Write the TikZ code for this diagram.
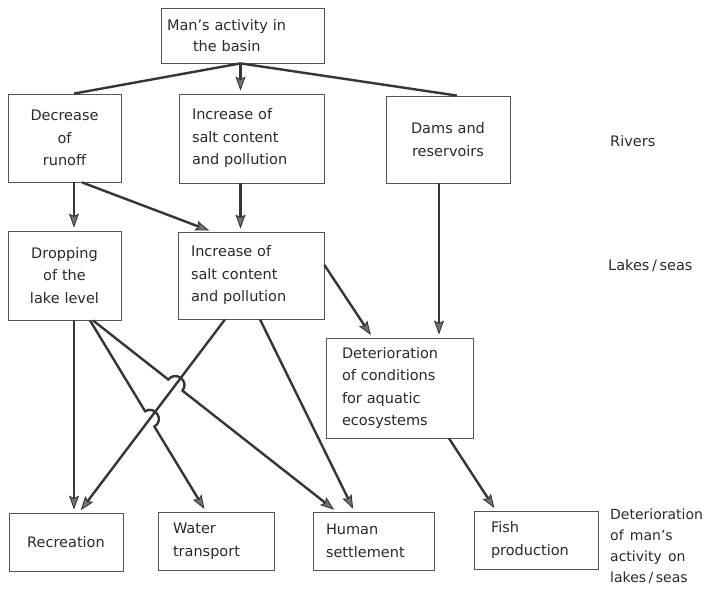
\documentclass[tikz,border=0pt]{standalone}
\usepackage{fontspec}
\setmainfont{DejaVu Sans}[WordSpace=1.4]
\usetikzlibrary{arrows.meta,calc}
\definecolor{lc}{HTML}{363636}
\definecolor{bc}{HTML}{555555}
\definecolor{tc}{HTML}{2A2A2A}
\newcommand\dfont{\fontsize{14.5pt}{22.5pt}\selectfont}
\newcommand\nsp{\hspace{0.18em}}
\begin{document}
\begin{tikzpicture}[x=1pt,y=-1pt,
  box/.style={draw=bc, line width=0.8pt, text=tc, font=\dfont, inner ysep=0pt},
  boxc/.style={box, align=center},
  boxl/.style={box, align=left},
  lbl/.style={text=tc, font=\dfont, align=left, inner sep=0pt},
  conn/.style={draw=lc, line width=2.4pt},
  arr/.style={conn, -{Stealth[length=14pt,width=10pt,inset=2.5pt,line width=0.9pt,fill=lc!70]}, shorten >=3pt},
]
\fill[white] (0,0) rectangle (713,591);
\useasboundingbox (0,0) rectangle (713,591);

% boxes
\node[boxl, text width=151pt, inner xsep=6pt, minimum height=55pt, font=\fontsize{14.5pt}{21pt}\selectfont] (top) at (242.5,35.5) {Man's activity in\\\hspace*{26pt}the basin};
\node[boxc, text width=101pt, inner xsep=6pt, minimum height=88pt] (dec) at (64.5,138) {Decrease\\of\\runoff};
\node[boxl, text width=119pt, inner xsep=13pt, minimum height=89pt] (incr) at (251.5,138.5) {Increase of\\salt content\\and pollution};
\node[boxc, text width=108pt, inner xsep=8pt, minimum height=87pt] (dams) at (448,139.5) {Dams and\\reservoirs};
\node[boxc, text width=101pt, inner xsep=6pt, minimum height=89pt] (drop) at (64.5,275.5) {Dropping\\of the\\lake level};
\node[boxl, text width=120pt, inner xsep=13pt, minimum height=87pt] (incl) at (251,275.5) {Increase of\\salt content\\and pollution};
\node[boxl, text width=115pt, inner xsep=16pt, minimum height=100pt] (det) at (399.5,388) {Deterioration\\of conditions\\for aquatic\\ecosystems};
\node[boxc, text width=102pt, inner xsep=6pt, minimum height=58pt] (rec) at (66,542) {Recreation};
\node[boxl, text width=86pt, inner xsep=15pt, minimum height=58pt] (water) at (216,541) {Water\\transport};
\node[boxl, text width=95pt, inner xsep=13pt, minimum height=58pt] (human) at (373.5,541) {Human\\settlement};
\node[boxl, text width=90pt, inner xsep=17pt, minimum height=58pt] (fish) at (536,540) {Fish\\production};

% side labels
\node[lbl, anchor=west] (riv) at (610,141) {Rivers};
\node[lbl, anchor=west] (lak) at (608,266) {Lakes\nsp/\nsp seas};
\node[lbl, anchor=west, font=\fontsize{14pt}{21pt}\selectfont] (dman) at (610,546) {Deterioration\\of man's\\activity on\\lakes\nsp/\nsp seas};

% connectors
\coordinate (tS) at ([xshift=-2pt]top.south);
\draw[conn] (tS) -- ([xshift=9.5pt]dec.north);
\draw[arr] (tS) -- ([xshift=-11pt]incr.north);
\draw[conn] (tS) -- ([xshift=9pt]dams.north);
\draw[arr] ([xshift=9.5pt]dec.south) -- ([xshift=9.5pt]drop.north);
\draw[arr] ([xshift=17.5pt]dec.south) -- ([xshift=-39pt]incl.north);
\draw[arr] ([xshift=-11pt]incr.south) -- ([xshift=-10.5pt]incl.north);
\draw[arr] ([xshift=-9pt]dams.south) -- ([xshift=39.5pt]det.north);
\draw[arr] ([yshift=10.5pt]incl.east) -- ([xshift=-27pt]det.north);
\draw[arr] ([xshift=49.5pt]det.south) -- ([xshift=-40pt]fish.north);
\draw[arr] ([xshift=9.5pt]drop.south) -- ([xshift=8pt]rec.north);

\coordinate (iA) at ([xshift=-26pt]incl.south);
\coordinate (rE) at ([xshift=13pt]rec.north);
\draw[arr] (iA) -- (rE);
\draw[arr] ([xshift=9pt]incl.south) -- ([xshift=-19pt]human.north);

\coordinate (dA) at ([xshift=25.5pt]drop.south);
\coordinate (dB) at ([xshift=28.5pt]drop.south);
\coordinate (wE) at ([xshift=-10pt]water.north);
\coordinate (hE) at ([xshift=-37pt]human.north);
\coordinate (X1) at (intersection of dB--hE and iA--rE);
\coordinate (X2) at (intersection of dA--wE and iA--rE);
\draw[arr] (dB) -- ($(X1)!9pt!(dB)$) to[bend left=90,looseness=1.7] ($(X1)!9pt!(hE)$) -- (hE);
\draw[arr] (dA) -- ($(X2)!9pt!(dA)$) to[bend left=90,looseness=1.7] ($(X2)!9pt!(wE)$) -- (wE);
\end{tikzpicture}
\end{document}
